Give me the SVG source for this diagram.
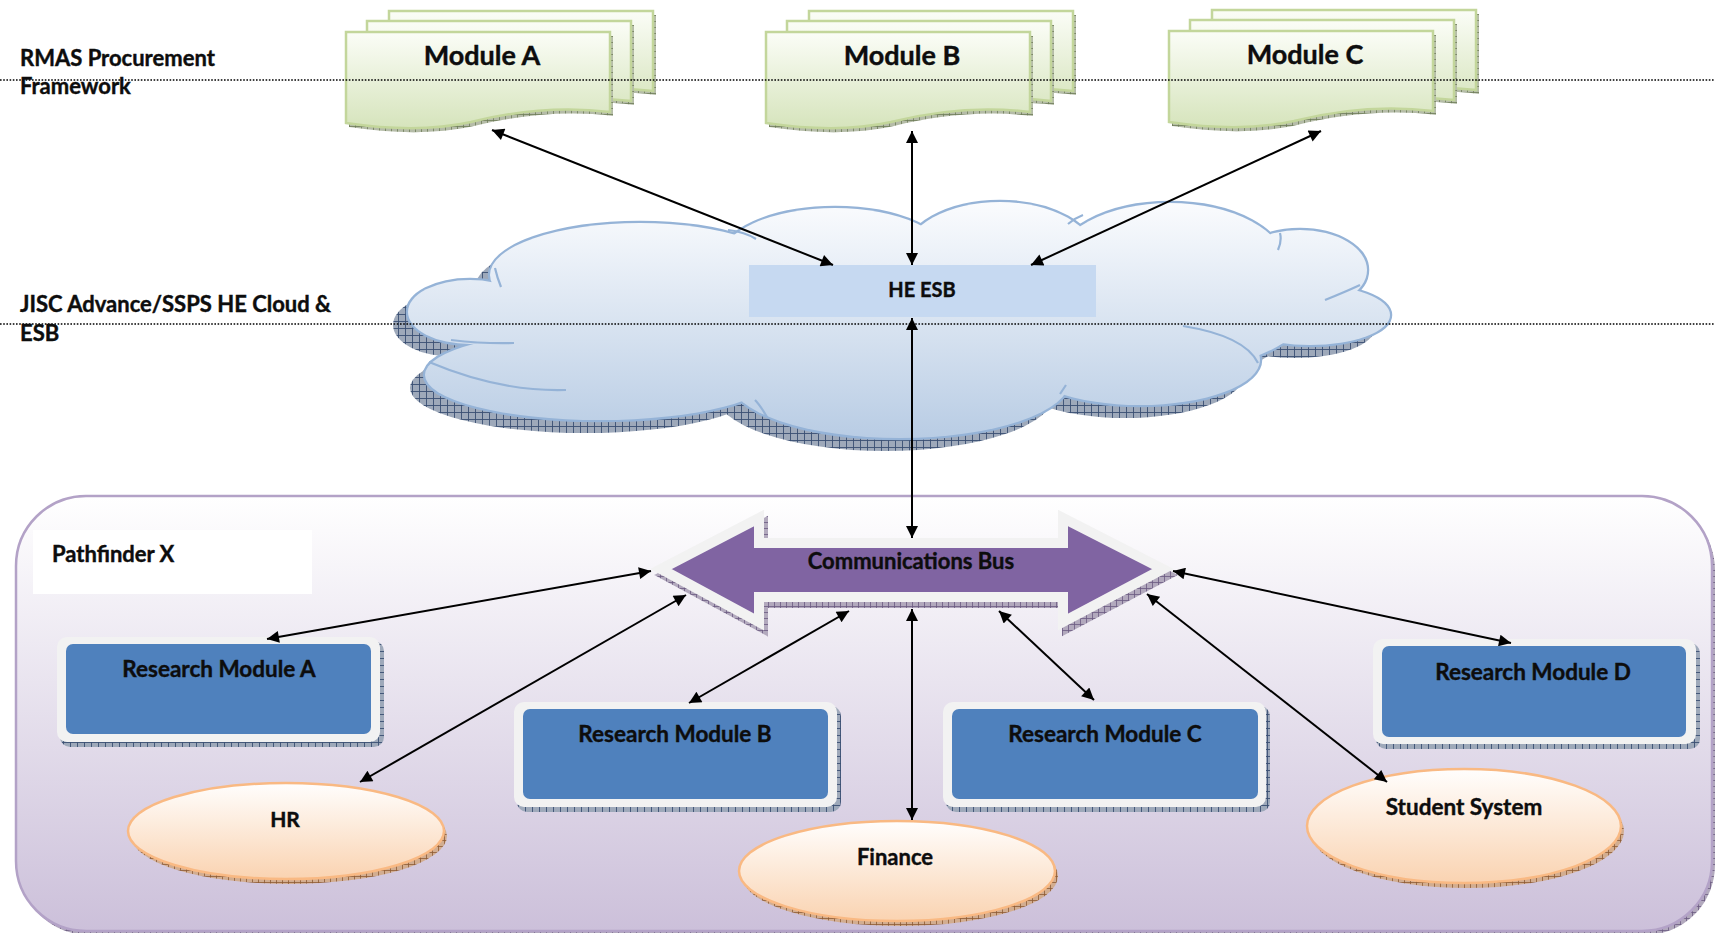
<svg xmlns="http://www.w3.org/2000/svg" xmlns:xlink="http://www.w3.org/1999/xlink" width="1715" height="933" viewBox="0 0 1715 933">
<style>
.lbl{font-family:Lato,"Liberation Sans",sans-serif;font-weight:bold;fill:#0d0d0d;stroke:#0d0d0d;stroke-width:0.4}
.side{font-size:22px}
.mod{font-size:27px;text-anchor:middle}
.rm{font-size:22.5px;text-anchor:middle}
.sheet{fill:url(#gSheet);stroke:#c3d69b;stroke-width:2.5}
.sheetSh{fill:url(#hGreen)}
.box{fill:#4f81bd}
.frame{fill:#f2f2f2}
.boxSh{fill:url(#hBlue)}
.ell{fill:url(#gEll);stroke:#f9b983;stroke-width:2.5}
.ellSh{fill:url(#hOrange)}
.dot{stroke:#000;stroke-width:1.6;stroke-dasharray:1.6 1.6;fill:none}
.conn line{stroke:#000;stroke-width:2;marker-start:url(#ah);marker-end:url(#ah)}
.cdet{fill:none;stroke:#95b3d7;stroke-width:2.2}
</style>
<defs>
<linearGradient id="gSheet" x1="0" y1="0" x2="0" y2="1"><stop offset="0" stop-color="#fbfdf7"/><stop offset="1" stop-color="#d6e4bc"/></linearGradient>
<linearGradient id="gEll" x1="0" y1="0" x2="0" y2="1"><stop offset="0" stop-color="#fffefd"/><stop offset="1" stop-color="#fad3b1"/></linearGradient>
<linearGradient id="gCloud" gradientUnits="userSpaceOnUse" x1="0" y1="200" x2="0" y2="440"><stop offset="0" stop-color="#fbfcfe"/><stop offset="1" stop-color="#b8cce4"/></linearGradient>
<linearGradient id="gCont" x1="0" y1="0" x2="0" y2="1"><stop offset="0" stop-color="#ffffff"/><stop offset="1" stop-color="#ccc0da"/></linearGradient>
<pattern id="hBlue" width="7" height="7" patternUnits="userSpaceOnUse"><rect width="7" height="7" fill="#9ea9ba"/><path d="M0,0.5H7M0.5,0V7" stroke="#3a4f73" stroke-width="0.9"/></pattern>
<pattern id="hGreen" width="6" height="6" patternUnits="userSpaceOnUse"><rect width="6" height="6" fill="#b5bca8"/><path d="M0,0.5H6M0.5,0V6" stroke="#6d7c58" stroke-width="0.8"/></pattern>
<pattern id="hOrange" width="6" height="6" patternUnits="userSpaceOnUse"><rect width="6" height="6" fill="#d2ad90"/><path d="M0,0.5H6M0.5,0V6" stroke="#8d5a34" stroke-width="0.8"/></pattern>
<pattern id="hPurple" width="6" height="6" patternUnits="userSpaceOnUse"><rect width="6" height="6" fill="#b2a9bd"/><path d="M0,0.5H6M0.5,0V6" stroke="#6b5a80" stroke-width="0.8"/></pattern>
<path id="sheetShape" d="M0,0H264V80C215,74 165,80 125,90C85,99 40,97 0,91Z"/>
<g id="cloudShapes">
<ellipse cx="470" cy="312" rx="62" ry="32"/>
<ellipse cx="600" cy="375" rx="175" ry="45"/>
<ellipse cx="640" cy="275" rx="150" ry="52"/>
<ellipse cx="835" cy="260" rx="115" ry="52"/>
<ellipse cx="1000" cy="255" rx="95" ry="53"/>
<ellipse cx="1170" cy="265" rx="115" ry="62"/>
<ellipse cx="1300" cy="270" rx="67" ry="40"/>
<ellipse cx="1310" cy="315" rx="80" ry="30"/>
<ellipse cx="1140" cy="360" rx="120" ry="45"/>
<ellipse cx="900" cy="380" rx="170" ry="58"/>
<ellipse cx="900" cy="320" rx="400" ry="80"/>
</g>
<marker id="ah" viewBox="0 0 10 10" refX="10" refY="5" markerWidth="15" markerHeight="12" markerUnits="userSpaceOnUse" orient="auto-start-reverse"><path d="M0,0L10,5L0,10Z" fill="#000"/></marker>
</defs>

<rect width="1715" height="933" fill="#ffffff"/>

<g id="pathfinder">
<rect x="19" y="500" width="1696" height="435" rx="70" fill="url(#hPurple)"/>
<rect x="16" y="496" width="1696" height="435" rx="70" fill="url(#gCont)" stroke="#b3a2c7" stroke-width="2.5"/>
<rect x="33" y="530" width="279" height="64" fill="#ffffff"/>
<text class="lbl" x="52" y="562" font-size="22">Pathfinder X</text>
</g>

<g id="cloud">
<use xlink:href="#cloudShapes" transform="translate(-15,13)" fill="url(#hBlue)"/>
<use xlink:href="#cloudShapes" fill="none" stroke="#95b3d7" stroke-width="4.5"/>
<use xlink:href="#cloudShapes" fill="url(#gCloud)"/>
<path class="cdet" d="M728,230Q745,232 756,239M1083,215Q1075,218 1068,224M1280,233Q1282,241 1278,250M1360,285Q1345,292 1325,300M1183,326Q1245,336 1258,363M451,340Q485,344 514,343M495,268Q497,277 501,287M429,362Q500,392 566,390M767,417Q760,405 755,400M1060,394Q1064,388 1066,385"/>
</g>

<g id="he-esb">
<rect x="749" y="265" width="347" height="52" fill="#c6d9f1"/>
<text class="lbl" x="922" y="297" font-size="20" text-anchor="middle">HE ESB</text>
</g>

<g id="module-a" transform="translate(346,32)">
<use xlink:href="#sheetShape" x="46" y="-17" class="sheetSh"/>
<use xlink:href="#sheetShape" x="43" y="-21" class="sheet"/>
<use xlink:href="#sheetShape" x="24" y="-7" class="sheetSh"/>
<use xlink:href="#sheetShape" x="21" y="-11" class="sheet"/>
<use xlink:href="#sheetShape" x="3" y="4" class="sheetSh"/>
<use xlink:href="#sheetShape" class="sheet"/>
<text class="lbl mod" x="136" y="33">Module A</text>
</g>
<g id="module-b" transform="translate(766,32)">
<use xlink:href="#sheetShape" x="46" y="-17" class="sheetSh"/>
<use xlink:href="#sheetShape" x="43" y="-21" class="sheet"/>
<use xlink:href="#sheetShape" x="24" y="-7" class="sheetSh"/>
<use xlink:href="#sheetShape" x="21" y="-11" class="sheet"/>
<use xlink:href="#sheetShape" x="3" y="4" class="sheetSh"/>
<use xlink:href="#sheetShape" class="sheet"/>
<text class="lbl mod" x="136" y="33">Module B</text>
</g>
<g id="module-c" transform="translate(1169,31)">
<use xlink:href="#sheetShape" x="46" y="-17" class="sheetSh"/>
<use xlink:href="#sheetShape" x="43" y="-21" class="sheet"/>
<use xlink:href="#sheetShape" x="24" y="-7" class="sheetSh"/>
<use xlink:href="#sheetShape" x="21" y="-11" class="sheet"/>
<use xlink:href="#sheetShape" x="3" y="4" class="sheetSh"/>
<use xlink:href="#sheetShape" class="sheet"/>
<text class="lbl mod" x="136" y="33">Module C</text>
</g>

<g id="layers">
<line class="dot" x1="0" y1="80" x2="1715" y2="80"/>
<line class="dot" x1="0" y1="324" x2="1715" y2="324"/>
<text class="lbl side" x="20" y="66">RMAS Procurement</text>
<text class="lbl side" x="20" y="94">Framework</text>
<text class="lbl side" x="20" y="312">JISC Advance/SSPS HE Cloud &amp;</text>
<text class="lbl side" x="20" y="341">ESB</text>
</g>

<g id="comm-bus">
<polygon points="665,575 763,524 763,549 1067,549 1067,524 1167,575 1067,628 1067,603 763,603 763,628" fill="url(#hPurple)" stroke="url(#hPurple)" stroke-width="10"/>
<polygon points="661,569 759,518 759,543 1063,543 1063,518 1163,569 1063,622 1063,597 759,597 759,622" fill="#8064a2" stroke="#f2f2f2" stroke-width="10"/>
<text class="lbl" x="911" y="569" font-size="22" text-anchor="middle">Communications Bus</text>
</g>

<g id="rm-a">
<rect x="60" y="641" width="324" height="106" rx="10" class="boxSh"/>
<rect x="57" y="637" width="323" height="105" rx="10" class="frame"/>
<rect x="66" y="644" width="305" height="90" rx="7" class="box"/>
<text class="lbl rm" x="219" y="677">Research Module A</text>
</g>
<g id="rm-b">
<rect x="517" y="706" width="324" height="106" rx="10" class="boxSh"/>
<rect x="514" y="702" width="323" height="105" rx="10" class="frame"/>
<rect x="523" y="709" width="305" height="90" rx="7" class="box"/>
<text class="lbl rm" x="675" y="742">Research Module B</text>
</g>
<g id="rm-c">
<rect x="946" y="706" width="324" height="106" rx="10" class="boxSh"/>
<rect x="943" y="702" width="323" height="105" rx="10" class="frame"/>
<rect x="952" y="709" width="306" height="90" rx="7" class="box"/>
<text class="lbl rm" x="1105" y="742">Research Module C</text>
</g>
<g id="rm-d">
<rect x="1376" y="643" width="324" height="106" rx="10" class="boxSh"/>
<rect x="1373" y="639" width="323" height="105" rx="10" class="frame"/>
<rect x="1382" y="646" width="304" height="91" rx="7" class="box"/>
<text class="lbl rm" x="1533" y="680">Research Module D</text>
</g>

<g id="hr">
<ellipse cx="289" cy="836" rx="158" ry="48" class="ellSh"/>
<ellipse cx="286" cy="831" rx="158" ry="48" class="ell"/>
<text class="lbl" x="285" y="827" font-size="21" text-anchor="middle">HR</text>
</g>
<g id="finance">
<ellipse cx="900" cy="876" rx="158" ry="50" class="ellSh"/>
<ellipse cx="897" cy="871" rx="158" ry="50" class="ell"/>
<text class="lbl" x="895" y="865" font-size="22" text-anchor="middle">Finance</text>
</g>
<g id="student-system">
<ellipse cx="1467" cy="831" rx="157" ry="57" class="ellSh"/>
<ellipse cx="1464" cy="826" rx="157" ry="57" class="ell"/>
<text class="lbl" x="1464" y="815" font-size="22.5" text-anchor="middle">Student System</text>
</g>

<g id="connectors" class="conn">
<line x1="492" y1="130" x2="833" y2="265"/>
<line x1="912" y1="131" x2="912" y2="265"/>
<line x1="1321" y1="131" x2="1031" y2="265"/>
<line x1="912" y1="318" x2="912" y2="538"/>
<line x1="651" y1="571" x2="267" y2="639"/>
<line x1="686" y1="595" x2="360" y2="782"/>
<line x1="849" y1="611" x2="689" y2="703"/>
<line x1="912" y1="609" x2="912" y2="820"/>
<line x1="999" y1="611" x2="1094" y2="700"/>
<line x1="1173" y1="571" x2="1511" y2="643"/>
<line x1="1147" y1="594" x2="1387" y2="782"/>
</g>
</svg>
